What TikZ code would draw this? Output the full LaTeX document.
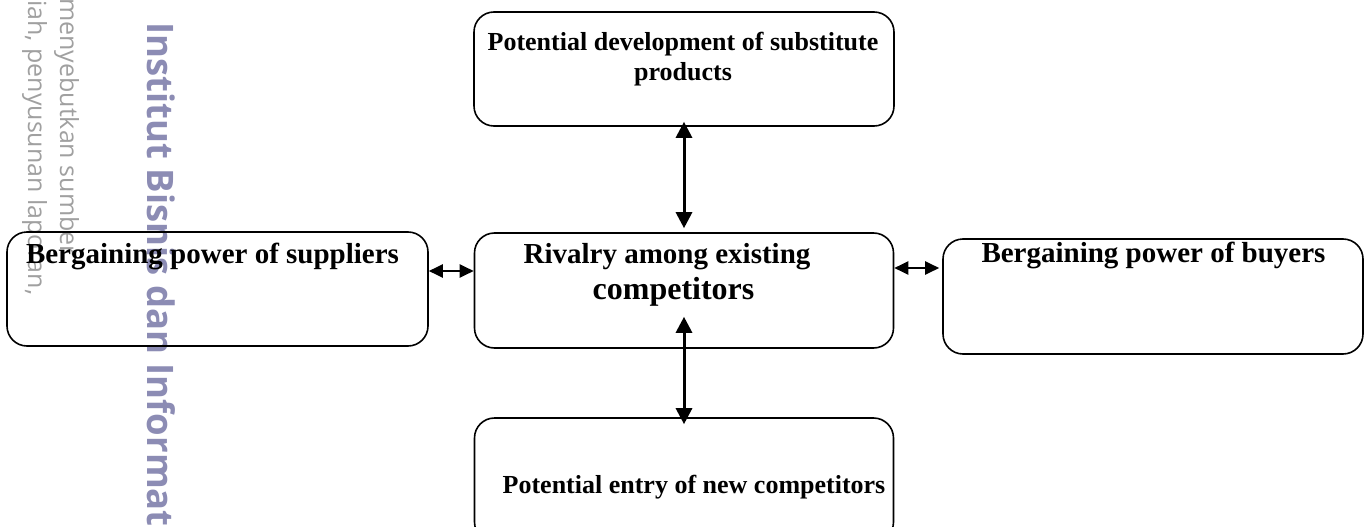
\documentclass[tikz,border=0pt]{standalone}
\usepackage{fontspec}
\setmainfont{Liberation Serif}
\newfontfamily\wmfont{Open Sans}
\usetikzlibrary{arrows.meta}
\definecolor{wmblue}{RGB}{140,140,180}
\definecolor{wmgray}{RGB}{160,160,160}
\begin{document}
\begin{tikzpicture}[x=1pt,y=-1pt,
  box/.style={draw, line width=1.6pt, rounded corners=20pt, inner sep=0pt},
  lbl/.style={inner sep=0pt, font=\fontsize{29}{34}\selectfont\bfseries},
  lblsmall/.style={inner sep=0pt, font=\fontsize{26}{30}\selectfont\bfseries},
  lblbig/.style={inner sep=0pt, font=\fontsize{32}{36}\selectfont\bfseries},
  vlink/.style={{Triangle[length=16pt,width=16pt]}-{Triangle[length=16pt,width=16pt]}, line width=3pt},
  hlink/.style={{Triangle[length=14pt,width=13pt]}-{Triangle[length=14pt,width=13pt]}, line width=2.2pt},
  wmthin/.style={inner sep=0pt, text=wmgray, font=\wmfont\fontsize{25}{30}\selectfont, rotate=-90, anchor=base west},
  wmbig/.style={inner sep=0pt, text=wmblue, font=\wmfont\bfseries\fontsize{36.5}{42}\selectfont, rotate=-90, anchor=base west}]
\useasboundingbox (0,0) rectangle (1371,527);
% watermark
\node[wmthin] (wm1) at (60,-2) {menyebutkan sumber};
\node[wmthin] (wm2) at (28,0) {iah, penyusunan laporan,};
\node[wmbig] (wm3) at (147,22) {Institut Bisnis dan Informat};
% boxes
\node[box, minimum width=420pt, minimum height=114pt] (top) at (684,69) {};
\node[box, minimum width=421pt, minimum height=114pt] (left) at (217.5,289) {};
\node[box, minimum width=419pt, minimum height=115pt] (center) at (684,290.5) {};
\node[box, minimum width=420pt, minimum height=115pt] (right) at (1153,296.5) {};
\node[box, minimum width=419pt, minimum height=124pt] (bottom) at (684,480) {};
% texts
\node[lblsmall, align=center, anchor=north] (toptext) at (683,32) {Potential development of substitute\\products};
\node[lbl, anchor=base] (lefttext) at (212.5,263) {Bergaining power of suppliers};
\node[lbl, anchor=base] (righttext) at (1153.5,262) {Bergaining power of buyers};
\node[lbl, anchor=base] (centertext1) at (667,263) {Rivalry among existing};
\node[lblbig, anchor=base] (centertext2) at (673.5,299) {competitors};
\node[lblsmall, anchor=base] (bottomtext) at (694,493) {Potential entry of new competitors};
% connectors
\draw[vlink] ([yshift=5pt]top.south) -- ([yshift=4pt]center.north);
\draw[vlink] ([yshift=32pt]center.south) -- ([yshift=-7pt]bottom.north);
\draw[hlink] ([yshift=18pt]left.east) -- ([yshift=19.5pt]center.west);
\draw[hlink] ([yshift=22.5pt]center.east) -- ([xshift=-3pt,yshift=28.5pt]right.west);
\end{tikzpicture}
\end{document}
